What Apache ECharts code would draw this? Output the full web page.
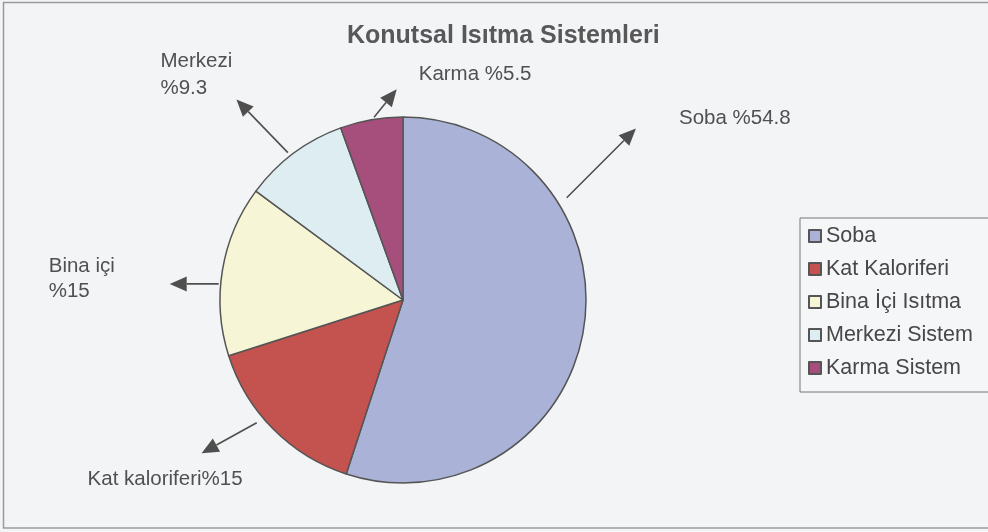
<!DOCTYPE html>
<html><head><meta charset="utf-8">
<script src="https://cdn.jsdelivr.net/npm/echarts@6/dist/echarts.min.js"></script>
<style>html,body{margin:0;padding:0;background:#f2f4f6}#c{width:988px;height:532px}</style>
</head><body><div id="c"></div>
<script>
// ---- data ----
const titleText = 'Konutsal Isıtma Sistemleri';
const categories = ['Soba', 'Kat Kaloriferi', 'Bina İçi Isıtma', 'Merkezi Sistem', 'Karma Sistem'];
const values = [54.8, 15, 15, 9.3, 5.5];
const calloutLabels = ['Soba %54.8', 'Kat kaloriferi%15', 'Bina içi\n%15', 'Merkezi\n%9.3', 'Karma %5.5'];

// ---- styles ----
const colors = ['#aab3d7', '#c4524f', '#f6f5d6', '#ddedf2', '#a64f7c'];
const edge = '#555555';
const arrowColor = '#4f4f4f';
// callout arrow geometry (angles clockwise from 12 o'clock, px offsets)
const callouts = [
  {anchor: 58, gap: 10, dir: 45, len: 98, tx: 43, ty: -10, lh: 22},
  {anchor: 230, gap: 8, dir: 241, len: 63, tx: -114, ty: 26, lh: 22},
  {anchor: -85, gap: 2, dir: -90, len: 49, tx: -121, ty: -5, lh: 25},
  {anchor: -38, gap: 4, dir: -44, len: 74, tx: -76, ty: -25, lh: 27},
  {anchor: -9, gap: 2, dir: 39, len: 36, tx: 22, ty: -15, lh: 22}
];

const chart = echarts.init(document.getElementById('c'), null, {renderer: 'canvas'});
const option = {
  animation: false,
  backgroundColor: '#f2f4f6',
  title: {
    text: titleText, left: 342, top: 19,
    textStyle: {fontFamily: 'Liberation Sans', fontWeight: 'bold', fontSize: 25, color: '#585858'}
  },
  legend: {
    orient: 'vertical', left: 800, top: 218,
    padding: [7, 40, 13, 8],
    itemWidth: 12, itemHeight: 12, itemGap: 11,
    icon: 'rect',
    borderColor: '#777', borderWidth: 1, backgroundColor: '#f5f6f8',
    textStyle: {fontFamily: 'Liberation Sans', fontSize: 21.5, color: '#474747', lineHeight: 20},
    data: categories
  },
  series: [{
    type: 'pie',
    center: [403, 300],
    radius: 183,
    startAngle: 90,
    clockwise: true,
    label: {show: false},
    labelLine: {show: false},
    emphasis: {disabled: true},
    itemStyle: {borderColor: edge, borderWidth: 1.5},
    data: categories.map((c, i) => ({name: c, value: values[i], itemStyle: {color: colors[i]}}))
  }]
};
chart.setOption(option);

// geometry from the library's pie layout
let cx = 403, cy = 300, r = 183;
try {
  const lay = chart.getModel().getSeriesByIndex(0).getData().getItemLayout(0);
  if (lay) { cx = lay.cx; cy = lay.cy; r = lay.r; }
} catch (e) {}

function pt(deg, d, ox, oy) {
  const a = deg * Math.PI / 180;
  return [ox + d * Math.sin(a), oy - d * Math.cos(a)];
}
const graphics = [{
  type: 'rect', silent: true, z: -1,
  shape: {x: 3.5, y: 2.5, width: 1000, height: 525.5},
  style: {fill: 'none', stroke: '#9a9a9a', lineWidth: 1.5}
}];
callouts.forEach((c, i) => {
  const s = pt(c.anchor, r + c.gap, cx, cy);
  const t = pt(c.dir, c.len, s[0], s[1]);
  const headLen = 17, half = 7.5;
  const base = pt(c.dir, c.len - headLen, s[0], s[1]);
  const a = c.dir * Math.PI / 180;
  const px = Math.cos(a) * half, py = Math.sin(a) * half;
  graphics.push({
    type: 'line', silent: true,
    shape: {x1: s[0], y1: s[1], x2: base[0], y2: base[1]},
    style: {stroke: arrowColor, lineWidth: 1.6}
  });
  graphics.push({
    type: 'polygon', silent: true,
    shape: {points: [t, [base[0] + px, base[1] + py], [base[0] - px, base[1] - py]]},
    style: {fill: arrowColor}
  });
  graphics.push({
    type: 'text', silent: true,
    x: t[0] + c.tx, y: t[1] + c.ty,
    style: {
      text: calloutLabels[i], fill: '#505050',
      font: '20.5px "Liberation Sans"', lineHeight: c.lh,
      align: 'left', verticalAlign: 'middle'
    }
  });
});
chart.setOption({graphic: graphics});
</script></body></html>
